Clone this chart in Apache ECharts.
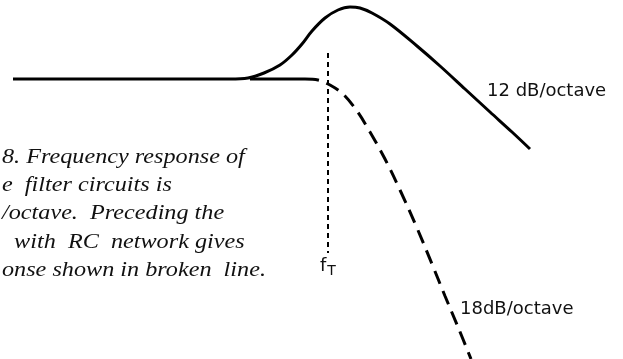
<!DOCTYPE html>
<html>
<head>
<meta charset="utf-8">
<script src="https://cdn.jsdelivr.net/npm/echarts@6/dist/echarts.min.js"></script>
<style>
  html, body { margin: 0; padding: 0; background: #fff; }
  #chart { width: 623px; height: 359px; }
</style>
</head>
<body>
<div id="chart"></div>
<script>
// response curves (x = frequency position, y = depth down the page)
const filterResponse = [
  [13, 79], [230, 79], [248, 78], [264, 73], [280, 65], [292, 55], [302, 44],
  [312, 31], [325, 18], [338, 10], [350, 7], [360, 8], [372, 13], [390, 24],
  [417, 46], [440, 66], [465, 89], [490, 112], [512, 132], [530, 149]
]
const flatJoin = [[250, 79], [305, 79]]
const rcResponse = [
  [305, 79], [318, 80], [330, 85], [343, 94], [357, 111], [370, 132],
  [385, 159], [400, 190], [417, 228], [432, 264], [445, 296], [458, 327], [471, 359]
]
const turnover = [[328, 53], [328, 253]]

const captionLines = [
  '8. Frequency response of',
  'e  filter circuits is',
  '/octave.  Preceding the',
  '  with  RC  network gives',
  'onse shown in broken  line.'
]
const slopeLabels = ['12 dB/octave', '18dB/octave']

const chart = echarts.init(document.getElementById('chart'))

const lineFont = 'DejaVu Sans'

chart.setOption({
  backgroundColor: '#fff',
  animation: false,
  grid: { left: 0, right: 0, top: 0, bottom: 0 },
  xAxis: { type: 'value', min: 0, max: 623, show: false },
  yAxis: { type: 'value', min: 0, max: 359, inverse: true, show: false },
  series: [
    {
      type: 'line',
      data: filterResponse,
      smooth: 0.35,
      symbol: 'none',
      lineStyle: { color: '#000', width: 3 }
    },
    {
      type: 'line',
      data: flatJoin,
      symbol: 'none',
      lineStyle: { color: '#000', width: 3 }
    },
    {
      type: 'line',
      data: rcResponse,
      smooth: 0.35,
      symbol: 'none',
      lineStyle: { color: '#000', width: 3, type: [14, 8] }
    },
    {
      type: 'line',
      data: turnover,
      symbol: 'none',
      lineStyle: { color: '#000', width: 2, type: [5, 4] }
    }
  ],
  graphic: [
    // caption is cut off at the left edge, as in the scan
    ...captionLines.map((t, i) => ({
      type: 'text',
      x: 2,
      y: 157 + i * 28.3,
      scaleX: 1.1,
      style: {
        text: t,
        font: 'italic 22px "Liberation Serif"',
        fill: '#111',
        verticalAlign: 'middle'
      }
    })),
    {
      type: 'text',
      left: 487,
      top: 82,
      style: { text: slopeLabels[0], font: '18px "' + lineFont + '"', fill: '#111' }
    },
    {
      type: 'text',
      left: 460,
      top: 300,
      style: { text: slopeLabels[1], font: '18px "' + lineFont + '"', fill: '#111' }
    },
    {
      type: 'text',
      left: 320,
      top: 257,
      style: {
        text: '{f|f}{t|T}',
        rich: {
          f: { font: '18px "' + lineFont + '"', fill: '#111' },
          t: { font: '14px "' + lineFont + '"', fill: '#111', padding: [11, 0, 0, 1] }
        }
      }
    }
  ]
})
</script>
</body>
</html>
